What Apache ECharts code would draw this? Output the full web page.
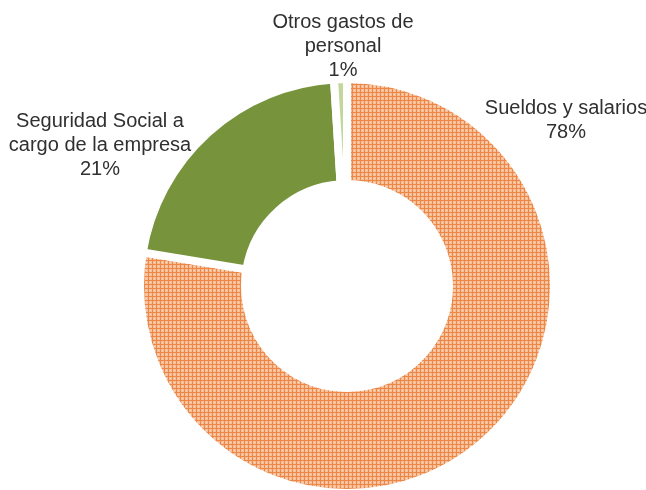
<!DOCTYPE html>
<html>
<head>
<meta charset="utf-8">
<script src="https://cdn.jsdelivr.net/npm/echarts@6/dist/echarts.min.js"></script>
<style>
html,body{margin:0;padding:0;background:#fff;}
#chart{width:646px;height:490px;}
</style>
</head>
<body>
<div id="chart"></div>
<script>
const categories = ['Sueldos y salarios', 'Seguridad Social a cargo de la empresa', 'Otros gastos de personal'];
const labelNames = ['Sueldos y salarios', 'Seguridad Social a\ncargo de la empresa', 'Otros gastos de\npersonal'];
const values = [77.6, 21.4, 1.0];

function makePattern() {
  const c = document.createElement('canvas');
  c.width = 4; c.height = 4;
  const ctx = c.getContext('2d');
  ctx.fillStyle = '#f6bf98';
  ctx.fillRect(0, 0, 4, 4);
  ctx.fillStyle = '#fbd9c2';
  ctx.fillRect(2, 2, 1, 1);
  ctx.fillStyle = '#ec8748';
  ctx.fillRect(0, 0, 4, 1);
  ctx.fillRect(0, 0, 1, 4);
  return c;
}
const colors = [{image: makePattern(), repeat: 'repeat'}, '#77933c', '#c3d69b'];
const labelPos = [[566, 120], [100, 145], [343, 46]];

const chart = echarts.init(document.getElementById('chart'), null, {renderer: 'canvas'});
chart.setOption({
  animation: false,
  series: [{
    type: 'pie',
    center: [347, 286],
    radius: [102, 207],
    startAngle: 90,
    clockwise: true,
    avoidLabelOverlap: false,
    itemStyle: {borderColor: '#fff', borderWidth: 8},
    label: {show: false},
    labelLine: {show: false},
    emphasis: {disabled: true},
    data: categories.map(function (n, i) {
      return {name: n, value: values[i], itemStyle: {color: colors[i]}};
    })
  }, {
    type: 'pie',
    center: [347, 286],
    radius: [102, 207],
    startAngle: 90,
    silent: true,
    avoidLabelOverlap: false,
    itemStyle: {color: 'rgba(0,0,0,0)', borderWidth: 0},
    label: {
      show: true,
      position: 'outside',
      formatter: function (p) { return labelNames[p.dataIndex] + '\n' + Math.round(p.percent) + '%'; },
      fontFamily: 'Liberation Sans, Arial, sans-serif',
      fontSize: 20,
      lineHeight: 24,
      color: '#303030',
      align: 'center'
    },
    labelLine: {show: false},
    labelLayout: function (params) {
      const p = labelPos[params.dataIndex];
      return {x: p[0], y: p[1], align: 'center', verticalAlign: 'middle'};
    },
    emphasis: {disabled: true},
    data: categories.map(function (n, i) {
      return {name: n, value: values[i]};
    })
  }]
});
</script>
</body>
</html>
